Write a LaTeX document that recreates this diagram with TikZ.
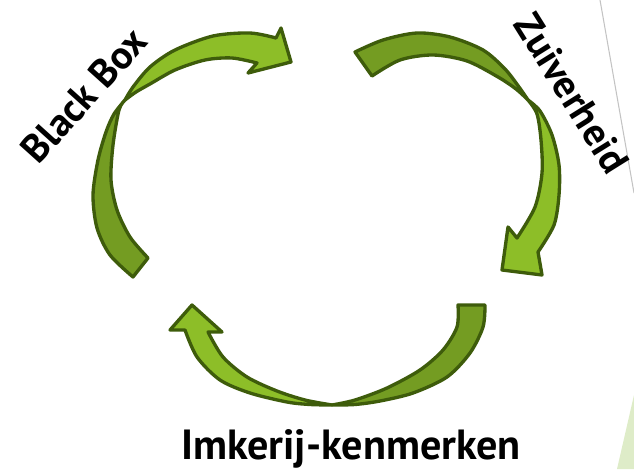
\documentclass[tikz,border=0pt]{standalone}
\usepackage{fontspec}
\setmainfont{PT Sans}
\usepackage{tikz}

\definecolor{cfront}{RGB}{141,190,40}
\definecolor{cback}{RGB}{116,156,34}
\definecolor{cline}{RGB}{62,92,11}
\definecolor{cgrey}{RGB}{195,195,195}
\definecolor{ccorner}{RGB}{222,236,200}

\begin{document}
\begin{tikzpicture}[x=0.02cm, y=-0.02cm,
	front/.style={fill=cfront, draw=cline, line width=1.9pt, line join=round},
	back/.style={fill=cback, draw=cline, line width=1.9pt, line join=round},
	label/.style={font=\bfseries\fontsize{24}{28}\selectfont, inner sep=0pt},
	tilted/.style={label, font=\bfseries\fontsize{22.5}{26}\selectfont}]
	\useasboundingbox (0,0) rectangle (634,469);
	%
	\draw[cgrey, line width=0.6pt] (600,0) -- (634,193);
	\fill[ccorner] (634,395) -- (617,469) -- (634,469) -- cycle;
	%
	% Black Box arrow
	\draw[back] plot[smooth] coordinates {(125,100) (114,114) (106,132) (98,160) (93,195) (97,228) (110,255) (133,277)}
		-- plot[smooth] coordinates {(148,258) (130,237) (117,210) (111,180) (113,145) (119,110) (125,100)} -- cycle;
	\draw[front] plot[smooth] coordinates {(125,100) (133,87) (150,67) (175,50) (213,36) (250,33) (276,38)}
		-- (281,28) -- (291,62) -- (248,73) -- (257,63)
		-- plot[smooth] coordinates {(257,63) (232,58) (205,60) (175,70) (150,84) (136,92) (125,100)} -- cycle;
	%
	% Zuiverheid arrow
	\draw[back] plot[smooth] coordinates {(528,100) (519,87) (505,69) (483,50) (450,37) (417,33) (383,40) (355,52)}
		-- plot[smooth] coordinates {(372,76) (400,60) (433,55) (467,61) (498,77) (516,89) (528,100)} -- cycle;
	\draw[front] plot[smooth] coordinates {(528,100) (540,111) (552,135) (559,165) (559,195) (554,225) (538,252)}
		-- (542,275) -- (502,270) -- (508,227) -- (517,238)
		-- plot[smooth] coordinates {(517,238) (535,207) (542,173) (541,140) (537,114) (528,100)} -- cycle;
	%
	% Imkerij-kenmerken arrow
	\draw[back] plot[smooth] coordinates {(332,405) (355,404.5) (380,401) (413,393) (447,377) (470,353) (483,327) (485,305)}
		-- plot[smooth] coordinates {(458,305) (457,327) (443,350) (420,370) (387,388) (355,400) (332,405)} -- cycle;
	\draw[front] plot[smooth] coordinates {(332,405) (310,404.5) (287,402) (250,393) (220,380) (197,357) (185,330)}
		-- (170,330) -- (192,305) -- (222,332) -- (208,332)
		-- plot[smooth] coordinates {(208,332) (223,357) (247,377) (277,391) (305,400) (332,405)} -- cycle;
	%
	\node[tilted, rotate=48] (blackbox) at (84,95) {Black Box};
	\node[tilted, rotate=-58] (zuiverheid) at (572,93) {Zuiverheid};
	\node[label] (imkerij) at (351,449) {Imkerij-kenmerken};
	%
\end{tikzpicture}
\end{document}
